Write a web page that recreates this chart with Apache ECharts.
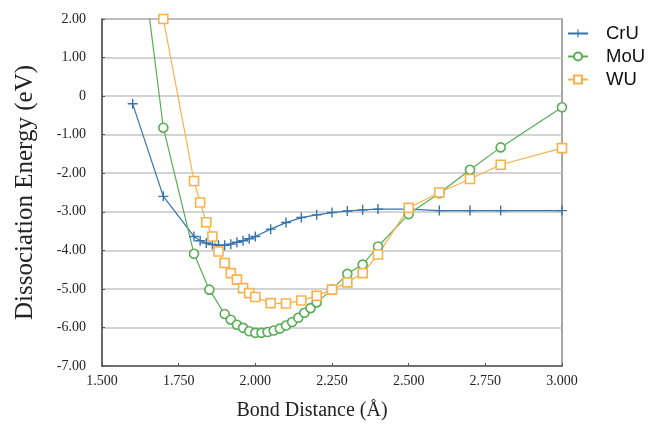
<!DOCTYPE html>
<html>
<head>
<meta charset="utf-8">
<script src="https://cdn.jsdelivr.net/npm/echarts@6/dist/echarts.min.js"></script>
<style>
  html, body { margin: 0; padding: 0; background: #fff; }
  #chart { width: 654px; height: 427px; }
</style>
</head>
<body>
<div id="chart"></div>
<script>
// Bond distances (Å) and dissociation energies (eV) for each dimer
const cruDistance = [1.60, 1.70, 1.80, 1.82, 1.84, 1.86, 1.88, 1.90, 1.92, 1.94, 1.96, 1.98, 2.00,
  2.05, 2.10, 2.15, 2.20, 2.25, 2.30, 2.35, 2.40, 2.50, 2.60, 2.70, 2.80, 3.00];
const cruEnergy = [-0.20, -2.60, -3.64, -3.75, -3.81, -3.85, -3.87, -3.87, -3.84, -3.79, -3.75, -3.70, -3.64,
  -3.45, -3.28, -3.15, -3.08, -3.02, -2.98, -2.95, -2.93, -2.93, -2.97, -2.97, -2.97, -2.97];

const mouDistance = [1.60, 1.70, 1.80, 1.85, 1.90, 1.92, 1.94, 1.96, 1.98, 2.00, 2.02, 2.04, 2.06, 2.08,
  2.10, 2.12, 2.14, 2.16, 2.18, 2.20, 2.25, 2.30, 2.35, 2.40, 2.50, 2.60, 2.70, 2.80, 3.00];
const mouEnergy = [5.50, -0.82, -4.09, -5.02, -5.65, -5.80, -5.93, -6.01, -6.10, -6.14, -6.14, -6.12, -6.08, -6.03,
  -5.95, -5.86, -5.75, -5.62, -5.50, -5.35, -5.02, -4.61, -4.37, -3.90, -3.06, -2.52, -1.91, -1.33, -0.29];

const wuDistance = [1.70, 1.80, 1.82, 1.84, 1.86, 1.88, 1.90, 1.92, 1.94, 1.96, 1.98, 2.00,
  2.05, 2.10, 2.15, 2.20, 2.25, 2.30, 2.35, 2.40, 2.50, 2.60, 2.70, 2.80, 3.00];
const wuEnergy = [2.00, -2.20, -2.76, -3.27, -3.64, -4.03, -4.33, -4.59, -4.76, -4.98, -5.11, -5.21,
  -5.37, -5.38, -5.30, -5.18, -5.02, -4.83, -4.59, -4.11, -2.90, -2.50, -2.15, -1.78, -1.35];

const seriesNames = ['CrU', 'MoU', 'WU'];
const seriesColors = ['#3573ae', '#58ad55', '#f7b24c'];

const pairs = (xs, ys) => xs.map((x, i) => [x, ys[i]]);
const plusSymbol = 'path://M4.3,0H5.7V4.3H10V5.7H5.7V10H4.3V5.7H0V4.3H4.3Z';

const chart = echarts.init(document.getElementById('chart'), null, { renderer: 'canvas' });

function lineSeries(name, color, data, symbol, size, hollow) {
  return {
    name: name,
    type: 'line',
    data: data,
    symbol: symbol,
    symbolSize: size,
    showAllSymbol: true,
    clip: true,
    lineStyle: { color: color, width: 1.2 },
    itemStyle: hollow
      ? { color: '#fff', borderColor: color, borderWidth: 1.6 }
      : { color: color, borderWidth: 0 },
    emphasis: { disabled: true },
    z: 3
  };
}

chart.setOption({
  animation: false,
  backgroundColor: '#fff',
  grid: {
    left: 102, right: 92, top: 19, bottom: 61,
    show: true, borderColor: '#8a8a8a', borderWidth: 1.5, backgroundColor: 'transparent'
  },
  legend: {
    orient: 'vertical',
    left: 562, top: 19,
    itemWidth: 20, itemHeight: 10, itemGap: 4,
    data: seriesNames,
    textStyle: {
      fontFamily: 'Liberation Sans', fontSize: 18.5, color: '#111',
      padding: [0, 0, 0, 13]
    }
  },
  xAxis: {
    type: 'value',
    min: 1.5, max: 3.0, interval: 0.25,
    name: 'Bond Distance (Å)',
    nameLocation: 'middle',
    nameGap: 35,
    nameTextStyle: {
      fontFamily: 'Liberation Serif', fontSize: 20, color: '#222',
      padding: [0, 40, 0, 0]
    },
    axisLine: { show: true, onZero: false, lineStyle: { color: '#555', width: 1.5 } },
    axisTick: { show: true, inside: true, length: 3, lineStyle: { color: '#555' } },
    axisLabel: {
      margin: 8,
      fontFamily: 'Liberation Serif', fontSize: 14, color: '#222',
      formatter: v => v.toFixed(3)
    },
    splitLine: { show: false }
  },
  yAxis: {
    type: 'value',
    min: -7, max: 2, interval: 1,
    name: 'Dissociation Energy (eV)',
    nameLocation: 'middle',
    nameGap: 64,
    nameTextStyle: { fontFamily: 'Liberation Serif', fontSize: 25, color: '#222' },
    axisLine: { show: true, onZero: false, lineStyle: { color: '#555', width: 1.5 } },
    axisTick: { show: true, inside: true, length: 3, lineStyle: { color: '#555' } },
    axisLabel: {
      margin: 16,
      fontFamily: 'Liberation Serif', fontSize: 14, color: '#222',
      formatter: v => (v === 0 ? '0' : v.toFixed(2))
    },
    splitLine: { show: true, lineStyle: { color: '#c4c4c4', width: 1.5 } }
  },
  series: [
    lineSeries(seriesNames[0], seriesColors[0], pairs(cruDistance, cruEnergy), plusSymbol, 10, false),
    lineSeries(seriesNames[1], seriesColors[1], pairs(mouDistance, mouEnergy), 'circle', 9, true),
    lineSeries(seriesNames[2], seriesColors[2], pairs(wuDistance, wuEnergy), 'rect', 9, true)
  ]
});
</script>
</body>
</html>
